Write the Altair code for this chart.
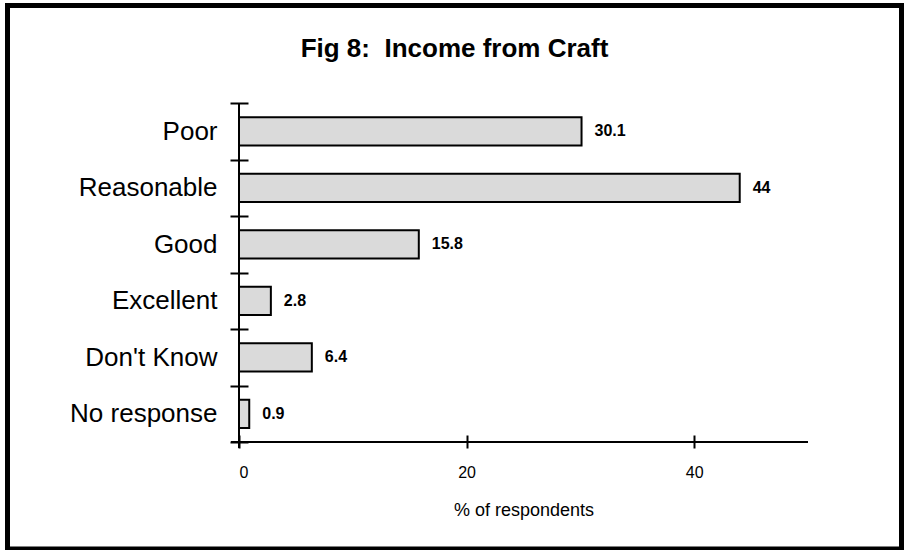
import altair as alt
import pandas as pd

# Survey answers and share of respondents (%)
categories = ["Poor", "Reasonable", "Good", "Excellent", "Don't Know", "No response"]
percent = [30.1, 44, 15.8, 2.8, 6.4, 0.9]
x_ticks = [0, 20, 40]
# non-breaking space keeps the double gap after the colon
title_text = "Fig 8:\u00a0 Income from Craft"

df = pd.DataFrame({"answer": categories, "pct": percent})

W, H = 569, 339
FONT = "Liberation Sans"

y_enc = alt.Y(
    "answer:N",
    sort=categories,
    title=None,
    scale=alt.Scale(paddingInner=0, paddingOuter=0),
    axis=alt.Axis(
        tickBand="extent",
        offset=-9,
        tickSize=18,
        tickWidth=2,
        tickColor="black",
        domain=False,
        grid=False,
        labelFont=FONT,
        labelFontSize=26,
        labelColor="black",
        labelPadding=13,
        zindex=1,
    ),
)

x_enc = alt.X(
    "pct:Q",
    title="% of respondents",
    scale=alt.Scale(domain=[0, 50], nice=False),
    axis=alt.Axis(
        values=x_ticks,
        offset=-7,
        tickSize=13,
        tickWidth=2,
        tickColor="black",
        domain=False,
        grid=False,
        labelFont=FONT,
        labelFontSize=16,
        labelColor="black",
        labelPadding=16,
        titleFont=FONT,
        titleFontSize=18,
        titleFontWeight="normal",
        titleColor="black",
        titlePadding=21,
        zindex=1,
    ),
)

base = alt.Chart(df)

bars = base.mark_bar(
    fill="#dadada", stroke="black", strokeWidth=2, height={"band": 0.5}
).encode(x=x_enc, y=y_enc)

labels = base.mark_text(
    align="left", baseline="middle", dx=13, font=FONT, fontSize=16,
    fontWeight="bold", color="black"
).encode(x="pct:Q", y=alt.Y("answer:N", sort=categories), text="pct:Q")

one = alt.Data(values=[{"k": 0}])

# axis lines crossing at the origin
y_line = alt.Chart(one).mark_rule(color="black", strokeWidth=2).encode(
    x=alt.value(0), y=alt.value(0), y2=alt.value(H + 6)
)
x_line = alt.Chart(one).mark_rule(color="black", strokeWidth=2).encode(
    x=alt.value(-8), x2=alt.value(W), y=alt.value(H)
)

# figure heading, centred on the frame
heading = alt.Chart(one).mark_text(
    text=title_text, font=FONT, fontSize=26, fontWeight="bold", color="black",
    align="center", baseline="alphabetic"
).encode(x=alt.value(215.5), y=alt.value(-46))

# heavy frame around the figure
frame = alt.Chart(one).mark_rect(
    fill=None, fillOpacity=0, stroke="black", strokeWidth=5
).encode(
    x=alt.value(-231.5), x2=alt.value(662.5), y=alt.value(-97.5), y2=alt.value(446)
)

chart = (
    alt.layer(bars, labels, y_line, x_line, heading, frame)
    .properties(
        width=W,
        height=H,
        autosize=alt.AutoSizeParams(type="none"),
        padding={"left": 239, "top": 103, "right": 97, "bottom": 108},
        background="white",
    )
    .configure_view(stroke=None)
)

chart.save("out.html", embed_options={"renderer": "svg", "actions": False})
